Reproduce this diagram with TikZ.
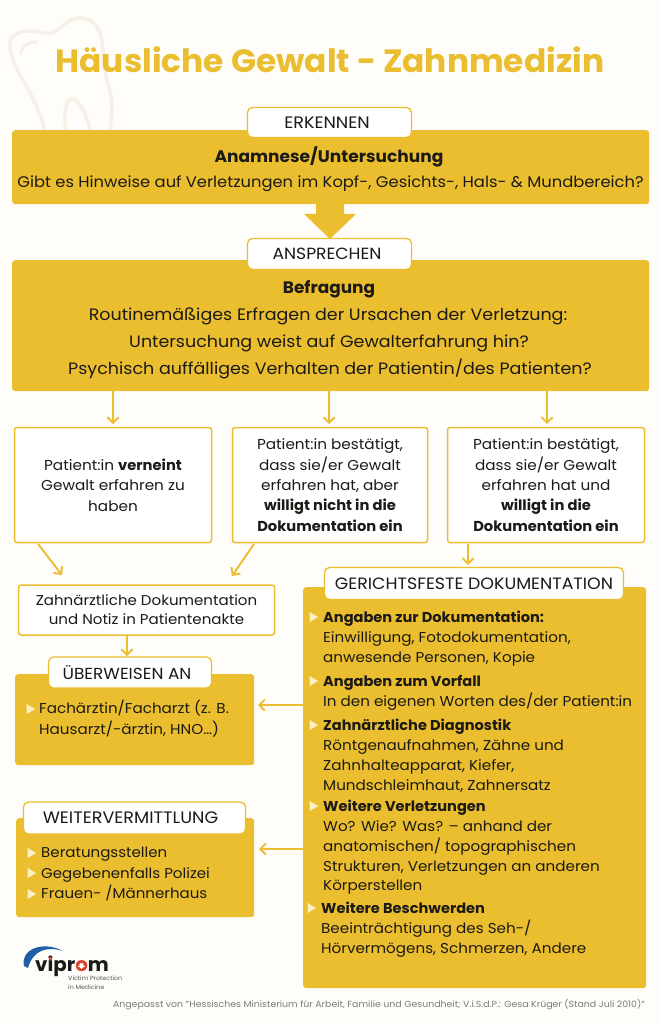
\documentclass[tikz,border=0pt]{standalone}
\usepackage{fontspec}
\setmainfont[FakeStretch=1.06,BoldFeatures={FakeStretch=1.02}]{Poppins}
\definecolor{bg}{HTML}{FEFDF9}
\definecolor{gold}{HTML}{EBBE2F}
\definecolor{ink}{HTML}{1C1A16}
\definecolor{tooth}{HTML}{F6F0E7}
\definecolor{tri}{HTML}{FBF0C4}
\definecolor{gr}{HTML}{7A7A7A}
\definecolor{vblue}{HTML}{1F5FA8}
\definecolor{vred}{HTML}{D8432F}
\newcommand{\fs}[2]{\fontsize{#1}{#2}\selectfont}
\newcommand{\plusmark}{\makebox[0pt]{\textcolor{white}{\rule[4.7pt]{7pt}{1.3pt}}}\makebox[0pt]{\textcolor{white}{\rule[2.3pt]{1.3pt}{6pt}}}}
\newcommand{\idot}{\makebox[0pt]{\textcolor{vred}{\rule[11.4pt]{3.6pt}{3.6pt}}}}
\usetikzlibrary{arrows.meta,shapes.geometric}
\tikzset{
 x=1pt,y=-1pt,
 panel/.style={fill=gold,rounded corners=3pt,draw=none},
 pill/.style={fill=white,draw=gold,line width=1.3pt,rounded corners=5pt},
 wbox/.style={fill=white,draw=gold,line width=1.5pt,rounded corners=2.5pt},
 conn/.style={draw=gold,line width=1.9pt,-{Straight Barb[length=5.5pt,width=11pt,line width=1.9pt]}},
 txt/.style={text=ink,inner sep=0pt,font=\fs{15.4}{20}},
 ctxt/.style={txt,align=center},
 btxt/.style={txt,anchor=base,align=center},
 ltxt/.style={txt,anchor=north west,align=left},
 bullet/.style={fill=tri,draw=none,regular polygon,regular polygon sides=3,shape border rotate=-90,minimum size=11.5pt,inner sep=0pt},
}
\begin{document}
\begin{tikzpicture}
\path[use as bounding box,fill=bg] (0,0) rectangle (661,1024);
% tooth
\draw[tooth,line width=3.5pt,line join=round]
 (45,130) .. controls (40,112) and (30,92) .. (24,82) .. controls (16,68) and (9,55) .. (10,43)
 .. controls (11,34) and (20,31) .. (30,31) .. controls (40,31) and (46,35) .. (52,33)
 .. controls (60,30) and (66,19) .. (80,18) .. controls (95,18) and (103,30) .. (103,55)
 .. controls (103,75) and (112,90) .. (112,105) .. controls (112,115) and (111,122) .. (110,130);
\draw[tooth,line width=3.5pt] (66,130) .. controls (64,118) and (64,100) .. (72,99) .. controls (80,100) and (88,118) .. (90,130);
\draw[tooth,line width=3pt] (21,55) .. controls (21,47) and (27,42) .. (37,42);
\node[font=\bfseries\fs{32.2}{36},text=gold,inner sep=0pt] (title) at (330,60) {Häusliche Gewalt - Zahnmedizin};
% panels
\fill[gold] (316,204) -- (344,204) -- (344,214) -- (356,214) -- (330,239) -- (304,214) -- (316,214) -- cycle;
\node[panel,minimum width=637pt,minimum height=74pt,anchor=north west] (p1) at (12,130) {};
\node[panel,minimum width=637pt,minimum height=131pt,anchor=north west] (p2) at (12,260) {};
\node[pill,minimum width=164pt,minimum height=30pt] (erk) at (329.5,122.5) {\fs{16.6}{17}\color{ink}\hspace*{-5pt}ERKENNEN};
\node[pill,minimum width=164pt,minimum height=31pt] (ans) at (329.5,254) {\fs{16.2}{17}\color{ink}\hspace*{-5pt}ANSPRECHEN};
\node[btxt,font=\bfseries\fs{16.7}{20}] (t1a) at (329,163) {Anamnese/Untersuchung};
\node[btxt] (t1b) at (330.5,187.5) {Gibt es Hinweise auf Verletzungen im Kopf-, Gesichts-, Hals- \& Mundbereich?};
\node[btxt,font=\bfseries\fs{16.6}{20}] (t2a) at (329,293) {Befragung};
\node[btxt,font=\fs{16.5}{20}] (t2b) at (328,320) {Routinemäßiges Erfragen der Ursachen der Verletzung:};
\node[btxt,font=\fs{16.5}{20}] (t2c) at (329,347) {Untersuchung weist auf Gewalterfahrung hin?};
\node[btxt,font=\fs{16.5}{20}] (t2d) at (330,374) {Psychisch auffälliges Verhalten der Patientin/des Patienten?};
% three boxes
\node[wbox,minimum width=197pt,minimum height=115pt,ctxt,font=\fs{14.4}{20.6}] (a) at (113,485) {Patient:in \textbf{verneint}\\Gewalt erfahren zu\\haben};
\node[wbox,minimum width=195pt,minimum height=115pt,ctxt,font=\fs{14.4}{20.4}] (b) at (330,485) {Patient:in bestätigt,\\dass sie/er Gewalt\\erfahren hat, aber\\\textbf{willigt nicht in die}\\\textbf{Dokumentation ein}};
\node[wbox,minimum width=197pt,minimum height=115pt,ctxt,font=\fs{14.4}{20.4}] (c) at (546,485) {Patient:in bestätigt,\\dass sie/er Gewalt\\erfahren hat und\\\textbf{willigt in die}\\\textbf{Dokumentation ein}};
\coordinate (p2a) at (113,391); \coordinate (p2b) at (329,391); \coordinate (p2c) at (547,391);
\coordinate (ae) at (62,575); \coordinate (be) at (232,576);
\coordinate (as) at (38,544); \coordinate (bs) at (254,544);
\coordinate (ce) at (468,565); \coordinate (cs) at (468,544);
\coordinate (ta) at (113,424); \coordinate (tb) at (329,424); \coordinate (tc) at (547,424);
\draw[conn] (p2a) -- (ta);
\draw[conn] (p2b) -- (tb);
\draw[conn] (p2c) -- (tc);
\draw[conn] (as) -- (ae);
\draw[conn] (bs) -- (be);
\draw[conn] (cs) -- (ce);
% doc
\node[wbox,minimum width=256pt,minimum height=50pt,ctxt,font=\fs{14.2}{19}] (doc) at (146.5,610) {Zahnärztliche Dokumentation\\und Notiz in Patientenakte};
\node[panel,minimum width=239pt,minimum height=91pt,anchor=north west] (ub) at (15,674) {};
\node[pill,minimum width=163pt,minimum height=31pt] (ubp) at (130,672.5) {\fs{16}{17}\color{ink}\hspace*{-6pt}ÜBERWEISEN AN};
\coordinate (dc) at (127,635);\coordinate (upe) at (127,656);
\draw[conn] (dc) -- (upe);
\node[bullet] (b1) at (29.5,709) {};
\node[ltxt,font=\fs{14.3}{21}] (ubt) at (39,700) {Fachärztin/Facharzt (z. B.\\Hausarzt/-ärztin, HNO…)};
% weiter
\node[panel,minimum width=238pt,minimum height=99pt,anchor=north west] (wv) at (16,818) {};
\node[pill,minimum width=222pt,minimum height=32pt] (wvp) at (134.5,818) {\fs{16.6}{17}\color{ink}\hspace*{-8pt}WEITERVERMITTLUNG};
\node[bullet] (b2) at (30.5,853) {};
\node[bullet] (b3) at (30.5,873) {};
\node[bullet] (b4) at (30.5,894) {};
\node[ltxt,font=\fs{14.2}{20.4}] (wvt) at (41,847) {Beratungsstellen\\Gegebenenfalls Polizei\\Frauen- /Männerhaus};
% gericht
\node[panel,minimum width=343pt,minimum height=401pt,anchor=north west] (g) at (303,587) {};
\node[pill,minimum width=299pt,minimum height=32pt] (gp) at (474,583.5) {\fs{16.4}{17}\color{ink}GERICHTSFESTE DOKUMENTATION};
\coordinate (g1) at (303,705);\coordinate (g2) at (303,849);
\coordinate (ube) at (258,705);\coordinate (wve) at (259,849);
\draw[conn] (g1) -- (ube);
\draw[conn] (g2) -- (wve);
\node[bullet] (g1b) at (312.5,617) {};
\node[bullet] (g2b) at (312.5,681) {};
\node[bullet] (g3b) at (312.5,725) {};
\node[bullet] (g4b) at (312.5,806) {};
\node[bullet] (g5b) at (310.5,908) {};
\tikzset{gt/.style={ltxt,font=\fs{14.3}{19.8}}}
\node[gt] (g1t) at (323,611) {\textbf{Angaben zur Dokumentation:}\\Einwilligung, Fotodokumentation,\\anwesende Personen, Kopie};
\node[gt] (g2t) at (323,675) {\textbf{Angaben zum Vorfall}\\In den eigenen Worten des/der Patient:in};
\node[gt] (g3t) at (323,719) {\textbf{Zahnärztliche Diagnostik}\\Röntgenaufnahmen, Zähne und\\Zahnhalteapparat, Kiefer,\\Mundschleimhaut, Zahnersatz};
\node[gt] (g4t) at (323,800) {\textbf{Weitere Verletzungen}\\Wo? Wie? Was? – anhand der\\anatomischen/ topographischen\\Strukturen, Verletzungen an anderen\\Körperstellen};
\node[gt] (g5t) at (321,902) {\textbf{Weitere Beschwerden}\\Beeinträchtigung des Seh-/\\Hörvermögens, Schmerzen, Andere};
% logo
\fill[vblue] (24,966) .. controls (20,950) and (42,940) .. (63,951) .. controls (47,946) and (33,950) .. (28,968) -- cycle;
\node[inner sep=0pt,anchor=base west,font=\bfseries\fs{19.4}{22},text=ink,text depth=0pt] (logo) at (35,971.5) {v\ooalign{i\cr\hfil\idot\hfil\cr}pr\textcolor{vred}{\ooalign{o\cr\hfil\plusmark\hfil\cr}}m};
\node[ltxt,font=\fs{6}{9},text=gr!70!black] (logot) at (68,975.5) {Victim Protection\\in Medicine};
\node[inner sep=0pt,font=\fs{8.85}{10},text=gr] (src) at (379,1005) {Angepasst von "Hessisches Ministerium für Arbeit, Familie und Gesundheit; V.i.S.d.P.: Gesa Krüger (Stand Juli 2010)"};
\end{tikzpicture}
\end{document}
